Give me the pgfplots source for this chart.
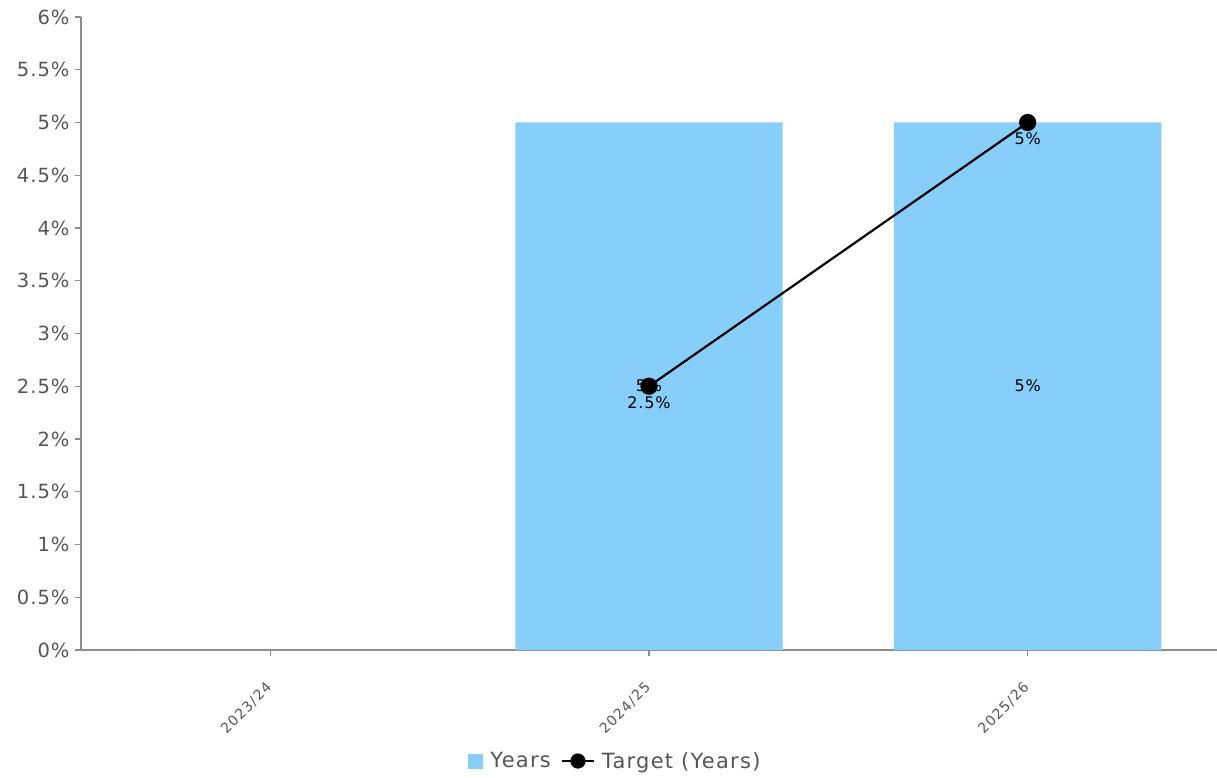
\documentclass[border=0pt]{standalone}
\usepackage{fontspec}
\setmainfont{DejaVu Sans}
\newfontfamily\lsfive[LetterSpace=5]{DejaVu Sans}
\newfontfamily\lssix[LetterSpace=6]{DejaVu Sans}
\newfontfamily\lseight[LetterSpace=8]{DejaVu Sans}
\usepackage{pgfplots}
\pgfplotsset{compat=1.18}
\definecolor{barblue}{HTML}{87CEFA}
\definecolor{axgray}{HTML}{8C8C8C}
\definecolor{ticktext}{HTML}{555555}
\begin{document}
\begin{tikzpicture}
\useasboundingbox (-81pt,-128pt) rectangle (1136pt,650pt);
\begin{axis}[
  at={(0,0)}, anchor=south west,
  scale only axis, width=1136pt, height=633pt,
  xmin=-0.5, xmax=2.5, ymin=0, ymax=6,
  axis lines=left,
  axis line style={draw=axgray, line width=1.4pt, -},
  xtick={0,1,2}, xticklabels={2023/24,2024/25,2025/26},
  ytick={0,0.5,...,6},
  yticklabel={\pgfmathprintnumber{\tick}\%},
  /pgf/number format/assume math mode=true,
  tick style={draw=axgray, line width=1.2pt},
  tick align=outside, major tick length=6pt,
  yticklabel style={font=\lsfive\fontsize{19.5}{21}\selectfont, text=ticktext, xshift=-2pt},
  xticklabel style={font=\lseight\fontsize{14}{16}\selectfont, text=ticktext, rotate=45, anchor=east, xshift=-18pt, yshift=-20pt},
  legend style={at={(0.4705,-0.1754)}, anchor=center, draw=none, fill=none,
    font=\lssix\fontsize{21}{23}\selectfont, text=ticktext, legend columns=2,
    /tikz/every odd column/.append style={column sep=5pt},
    /tikz/every even column/.append style={column sep=8pt}},
]
\addplot[ybar, bar width=0.706, fill=barblue, draw=none, bar shift=0pt,
  legend image code/.code={\fill[barblue] (0pt,-7.5pt) rectangle (15pt,7.5pt);}]
  coordinates {(0,0) (1,5) (2,5)};
\addlegendentry{Years}
\addplot[black, line width=2.2pt, mark=*, mark size=7.5pt,
  legend image code/.code={\draw[black, line width=2pt] (0pt,0pt) -- (32pt,0pt); \fill[black] (16pt,0pt) circle (6.5pt);},
  nodes near coords, point meta=explicit symbolic,
  every node near coord/.append style={anchor=north, yshift=-6pt, text=black, font=\lsfive\fontsize{16}{18}\selectfont}]
  coordinates {(1,2.5) [2.5\%] (2,5) [5\%]};
\addlegendentry{Target (Years)}
\addplot[draw=none, mark=none, forget plot,
  nodes near coords, point meta=explicit symbolic,
  every node near coord/.append style={anchor=center, yshift=1pt, text=black, font=\lsfive\fontsize{16}{18}\selectfont}]
  coordinates {(1,2.5) [5\%] (2,2.5) [5\%]};
\end{axis}
\end{tikzpicture}
\end{document}
